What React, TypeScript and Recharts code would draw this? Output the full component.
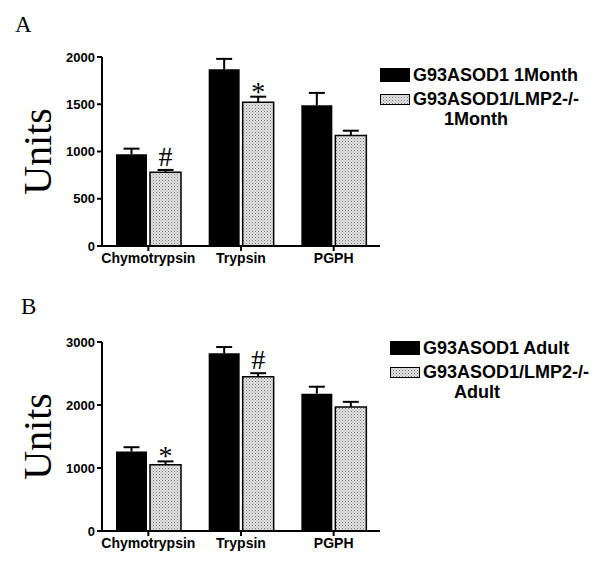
import React from 'react';
import { BarChart, Bar, XAxis, YAxis, LabelList } from 'recharts';

const categories = ['Chymotrypsin', 'Trypsin', 'PGPH'];

// Panel A (1 month)
const aWild = [970, 1870, 1490];
const aWildErr = [60, 110, 130];
const aKo = [780, 1520, 1170];
const aKoErr = [25, 60, 50];
const aMarks = ['#', '*', ''];
const aTicks = [0, 500, 1000, 1500, 2000];

// Panel B (adult)
const bWild = [1260, 2820, 2180];
const bWildErr = [70, 100, 110];
const bKo = [1050, 2450, 1970];
const bKoErr = [55, 55, 80];
const bMarks = ['*', '#', ''];
const bTicks = [0, 1000, 2000, 3000];

const SANS = 'Arial, "Liberation Sans", sans-serif';
const SERIF = '"Times New Roman", "Liberation Serif", serif';

const buildRows = (wild: number[], wildErr: number[], ko: number[], koErr: number[], marks: string[]) =>
  categories.map((name, i) => ({
    name,
    wild: wild[i],
    wildErr: wildErr[i],
    ko: ko[i],
    koErr: koErr[i],
    mark: marks[i],
  }));

type Row = ReturnType<typeof buildRows>[number];

// upper-only error bar with a cap, scaled from the bar's own pixel height
const errorBar = (rows: Row[], valKey: 'wild' | 'ko', errKey: 'wildErr' | 'koErr') => (props: any) => {
  const { x, y, width, height, index } = props;
  const row = rows[index];
  if (!row) return null;
  const top = y - row[errKey] * (height / row[valKey]);
  const cx = x + width / 2;
  return (
    <g>
      <line x1={cx} x2={cx} y1={y} y2={top} stroke="#000" strokeWidth={2} />
      <line x1={cx - 8} x2={cx + 8} y1={top} y2={top} stroke="#000" strokeWidth={2} />
    </g>
  );
};

const Swatch: React.FC<{ hatched?: boolean }> = ({ hatched }) => (
  <svg width={30} height={hatched ? 11 : 14} style={{ display: 'block' }}>
    <defs>
      <pattern id="legHatch" width="3" height="3" patternUnits="userSpaceOnUse">
        <rect width="3" height="3" fill="#e2e2e2" />
        <rect width="1" height="1" fill="#7a7a7a" />
        <rect x="1.5" y="1.5" width="1" height="1" fill="#9a9a9a" />
      </pattern>
    </defs>
    <rect x={0.5} y={0.5} width={29} height={hatched ? 10 : 13} fill={hatched ? 'url(#legHatch)' : '#000'} stroke="#000" />
  </svg>
);

interface PanelProps {
  letter: string;
  rows: Row[];
  ticks: number[];
  max: number;
  legend: [string, string, string];
  legendLeft: number;
  legendTop: number;
  letterTop: number;
  letterLeft: number;
}

const Panel: React.FC<PanelProps> = ({ letter, rows, ticks, max, legend, legendLeft, legendTop, letterTop, letterLeft }) => {
  const pid = `hatch${letter}`;
  const renderMark = (props: any) => {
    const { x, y, width, height, index } = props;
    const row = rows[index];
    if (!row || !row.mark) return null;
    const top = y - row.koErr * (height / row.ko);
    const star = row.mark === '*';
    return (
      <text
        x={x + width / 2}
        y={star ? top + 4 : top - 4}
        textAnchor="middle"
        fontFamily={SERIF}
        fontSize={28}
        fill="#000"
      >
        {row.mark}
      </text>
    );
  };

  const unitsLabel = (props: any) => {
    const vb = props.viewBox || {};
    const cy = (vb.y ?? 57) + (vb.height ?? 189) / 2;
    return (
      <text
        transform={`translate(51, ${cy}) rotate(-90)`}
        textAnchor="middle"
        fontFamily={SERIF}
        fontSize={40}
        fill="#000"
      >
        Units
      </text>
    );
  };

  return (
    <div style={{ position: 'relative', width: 600, height: 285 }}>
      <div style={{ position: 'absolute', left: letterLeft, top: letterTop, fontFamily: SERIF, fontSize: 23 }}>
        {letter}
      </div>
      <BarChart
        width={600}
        height={285}
        data={rows}
        margin={{ top: 57, right: 220, bottom: 9, left: 0 }}
        barSize={31}
        barGap={3}
      >
        <defs>
          <pattern id={pid} width="3" height="3" patternUnits="userSpaceOnUse">
            <rect width="3" height="3" fill="#e2e2e2" />
            <rect width="1" height="1" fill="#7a7a7a" />
            <rect x="1.5" y="1.5" width="1" height="1" fill="#9a9a9a" />
          </pattern>
        </defs>
        <XAxis
          dataKey="name"
          axisLine={{ stroke: '#000', strokeWidth: 2 }}
          tickLine={{ stroke: '#000', strokeWidth: 2 }}
          tickSize={5}
          height={30}
          tick={{ fill: '#000', fontFamily: SANS, fontWeight: 'bold', fontSize: 14 }}
        />
        <YAxis
          width={102}
          domain={[0, max]}
          ticks={ticks}
          interval={0}
          axisLine={{ stroke: '#000', strokeWidth: 2 }}
          tickLine={{ stroke: '#000', strokeWidth: 2 }}
          tickSize={5}
          tick={{ fill: '#000', fontFamily: SANS, fontWeight: 'bold', fontSize: 13 }}
          label={unitsLabel}
        />
        <Bar dataKey="wild" fill="#000" isAnimationActive={false}>
          <LabelList dataKey="wildErr" content={errorBar(rows, 'wild', 'wildErr')} />
        </Bar>
        <Bar dataKey="ko" fill={`url(#${pid})`} stroke="#000" strokeWidth={1.5} isAnimationActive={false}>
          <LabelList dataKey="koErr" content={errorBar(rows, 'ko', 'koErr')} />
          <LabelList dataKey="mark" content={renderMark} />
        </Bar>
      </BarChart>
      <div style={{ position: 'absolute', left: legendLeft, top: legendTop, fontFamily: SANS, fontWeight: 'bold', fontSize: 18, color: '#000', lineHeight: '20px' }}>
        <div style={{ display: 'flex', alignItems: 'center', gap: 3 }}>
          <Swatch />
          <span>{legend[0]}</span>
        </div>
        <div style={{ display: 'flex', alignItems: 'center', gap: 3, marginTop: 4 }}>
          <Swatch hatched />
          <span>{legend[1]}</span>
        </div>
        <div style={{ paddingLeft: 64 }}>{legend[2]}</div>
      </div>
    </div>
  );
};

export default function App() {
  const rowsA = buildRows(aWild, aWildErr, aKo, aKoErr, aMarks);
  const rowsB = buildRows(bWild, bWildErr, bKo, bKoErr, bMarks);
  return (
    <div style={{ position: 'absolute', left: 0, top: 0, width: 600, height: 570, background: '#fff' }}>
      <Panel
        letter="A"
        rows={rowsA}
        ticks={aTicks}
        max={2000}
        legend={['G93ASOD1 1Month', 'G93ASOD1/LMP2-/-', '1Month']}
        legendLeft={380}
        legendTop={65}
        letterLeft={15}
        letterTop={12}
      />
      <Panel
        letter="B"
        rows={rowsB}
        ticks={bTicks}
        max={3000}
        legend={['G93ASOD1 Adult', 'G93ASOD1/LMP2-/-', 'Adult']}
        legendLeft={390}
        legendTop={53}
        letterLeft={21}
        letterTop={9}
      />
    </div>
  );
}
